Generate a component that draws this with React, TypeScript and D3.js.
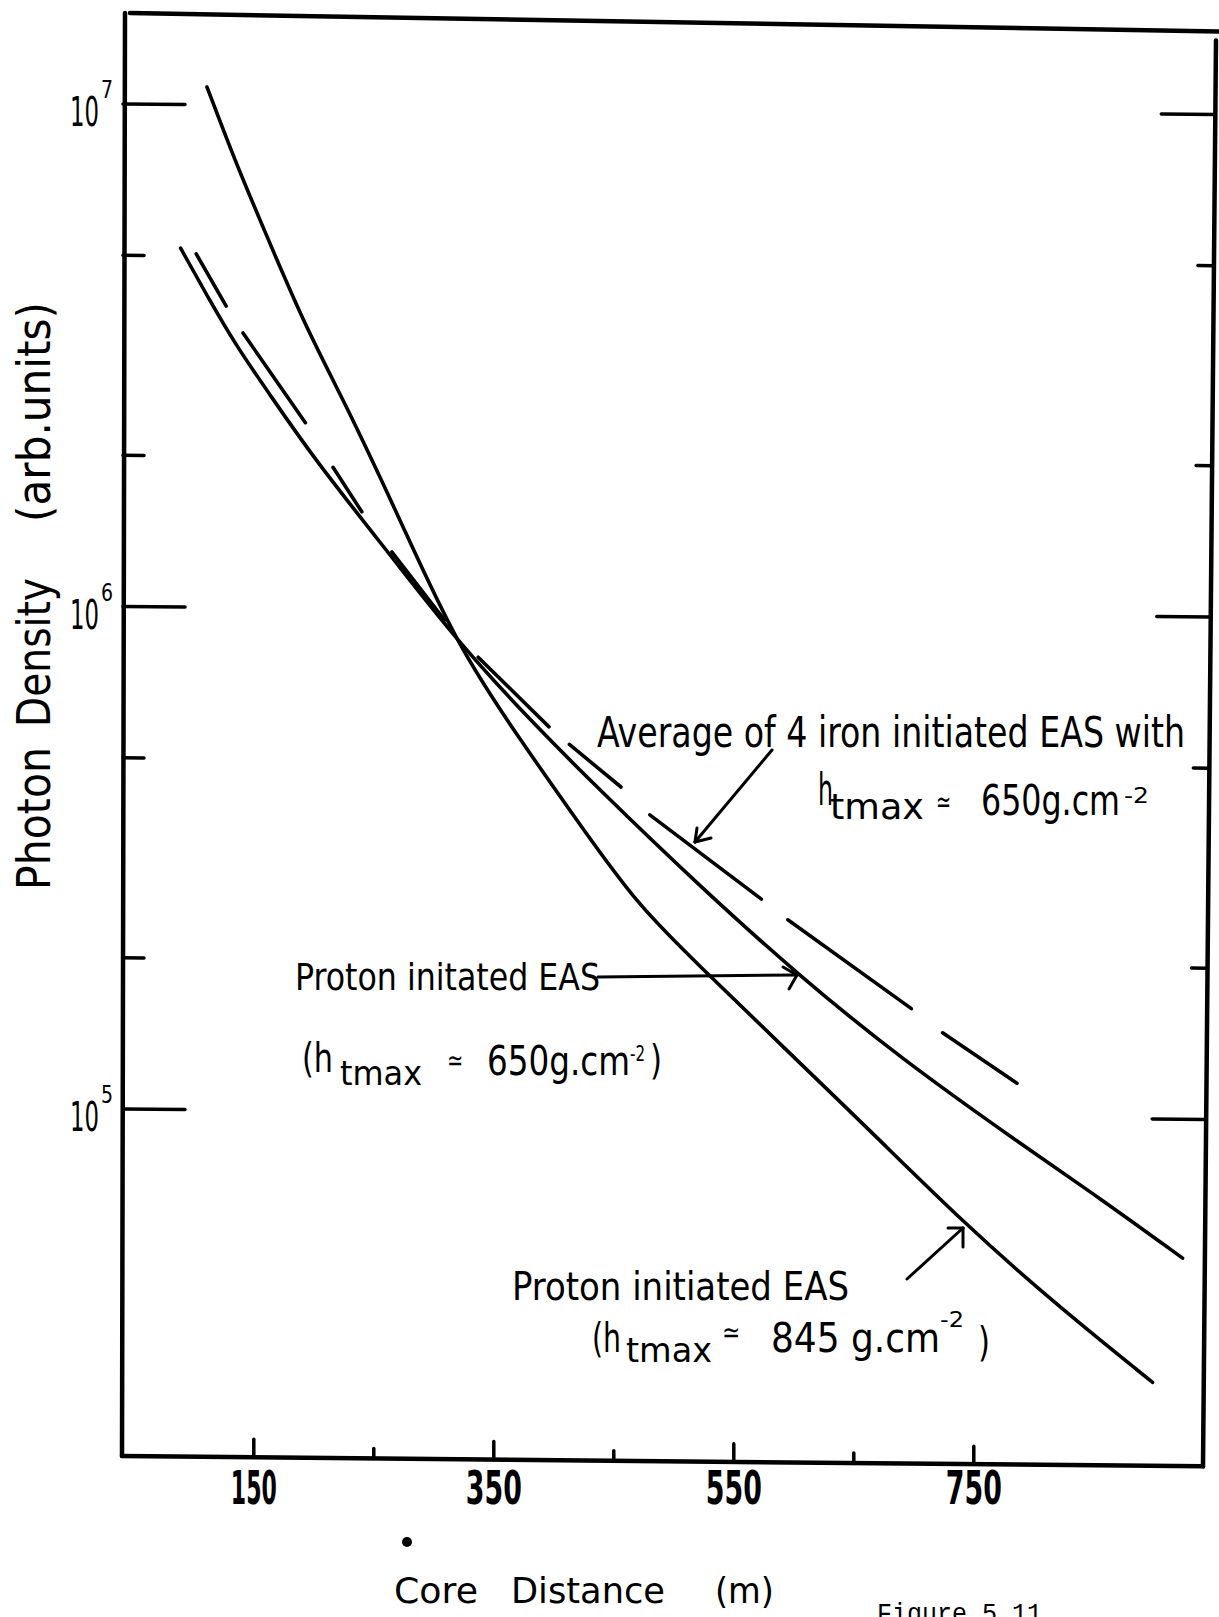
import { useEffect, useRef } from 'react';
import * as d3 from 'd3';

const WIDTH = 1219;
const HEIGHT = 1617;

// Proton initiated EAS, htmax ~ 845 g.cm^-2 (steep solid curve)
const distance845 = [111, 134, 158, 193, 226, 272, 319, 372, 422, 470, 522, 591, 669, 741, 816, 899];
const density845 = [1.085e7, 7.78e6, 5.7e6, 3.63e6, 2.57e6, 1.505e6, 8.51e5, 5.52e5, 3.75e5, 2.6e5, 1.97e5, 1.37e5, 9.09e4, 6.18e4, 4.3e4, 2.99e4];

// Proton initiated EAS, htmax ~ 650 g.cm^-2 (flatter solid curve)
const distance650 = [89, 113, 136, 161, 199, 269, 319, 380, 438, 522, 603, 688, 788, 855, 924];
const density650 = [5.18e6, 4.09e6, 3.3e6, 2.71e6, 2.0e6, 1.235e6, 8.7e5, 6.05e5, 4.41e5, 2.84e5, 1.91e5, 1.31e5, 8.9e4, 6.94e4, 5.29e4];

// Average of 4 iron initiated EAS (hand drawn dashes: start / end of each dash)
const ironDashStart = [102, 141, 216, 265, 337, 413, 480, 595, 724];
const ironDashStartDensity = [5.05e6, 3.52e6, 1.91e6, 1.3e6, 8.05e5, 5.42e5, 3.94e5, 2.45e5, 1.47e5];
const ironDashEnd = [127, 193, 240, 309, 396, 456, 573, 698, 786];
const ironDashEndDensity = [3.98e6, 2.34e6, 1.56e6, 9.53e5, 5.87e5, 4.47e5, 2.69e5, 1.64e5, 1.17e5];

const majorDensityTicks = [1e5, 1e6, 1e7];
const minorDensityTicks = [2e5, 5e5, 2e6, 5e6];
const majorDistanceTicks = [150, 350, 550, 750];
const minorDistanceTicks = [250, 450, 650];

const HAND = "'Liberation Sans Narrow', 'DejaVu Sans Condensed', 'Liberation Sans', sans-serif";
const LEROY = "'DejaVu Sans', sans-serif";

export default function App() {
  const svgRef = useRef<SVGSVGElement>(null);

  useEffect(() => {
    if (!svgRef.current) return;
    const svg = d3.select(svgRef.current);
    svg.selectAll('*').remove();

    const plot = { left: 123, right: 1209, top: 14, bottom: 1456 };
    const x = d3.scaleLinear().domain([150, 750]).range([253.8, 973.8]);
    const y = d3.scaleLog().domain([1e5, 1e7]).range([1109, 104]);

    svg.append('rect').attr('width', WIDTH).attr('height', HEIGHT).attr('fill', '#fff');

    // the scanned sheet is slightly skewed: right side sits lower
    const g = svg
      .append('g')
      .attr('transform', `translate(${plot.left},0) skewY(0.55) translate(${-plot.left},0)`)
      .attr('stroke', '#000')
      .attr('fill', 'none')
      .attr('stroke-linecap', 'round');

    // frame
    g.append('line')
      .attr('x1', plot.left + 2).attr('y1', plot.top - 1)
      .attr('x2', plot.left - 1).attr('y2', plot.bottom)
      .attr('stroke-width', 4.5);
    g.append('line')
      .attr('x1', plot.left + 7).attr('y1', plot.top - 1)
      .attr('x2', WIDTH).attr('y2', plot.top + 7)
      .attr('stroke-width', 4.5);
    g.append('line')
      .attr('x1', plot.left - 1).attr('y1', plot.bottom)
      .attr('x2', plot.right - 6).attr('y2', plot.bottom)
      .attr('stroke-width', 4.5);
    const rightTop = plot.top + 16;
    const rightAt = (py: number) =>
      plot.right + 7 - ((py - rightTop) / (plot.bottom - rightTop)) * 13;
    g.append('line')
      .attr('x1', rightAt(rightTop)).attr('y1', rightTop)
      .attr('x2', rightAt(plot.bottom)).attr('y2', plot.bottom)
      .attr('stroke-width', 4.5);

    // density ticks, left and right
    const densityTicks = [
      ...majorDensityTicks.map((v) => ({ v, left: 62, right: 54 })),
      ...minorDensityTicks.map((v) => ({ v, left: 21, right: 16 })),
    ];
    densityTicks.forEach((t) => {
      const py = y(t.v);
      g.append('line')
        .attr('x1', plot.left).attr('x2', plot.left + t.left)
        .attr('y1', py).attr('y2', py)
        .attr('stroke-width', 3.5);
      g.append('line')
        .attr('x1', rightAt(py) - t.right).attr('x2', rightAt(py))
        .attr('y1', py).attr('y2', py)
        .attr('stroke-width', 3.5);
    });

    // distance ticks
    const distanceTicks = [
      ...majorDistanceTicks.map((v) => ({ v, len: 18 })),
      ...minorDistanceTicks.map((v) => ({ v, len: 10 })),
    ];
    distanceTicks.forEach((t) => {
      g.append('line')
        .attr('x1', x(t.v)).attr('x2', x(t.v))
        .attr('y1', plot.bottom).attr('y2', plot.bottom - t.len)
        .attr('stroke-width', 3.5);
    });

    // curves
    const line = d3
      .line<[number, number]>()
      .x((d) => x(d[0]))
      .y((d) => y(d[1]))
      .curve(d3.curveBasis);

    const p845 = distance845.map((d, i) => [d, density845[i]] as [number, number]);
    const p650 = distance650.map((d, i) => [d, density650[i]] as [number, number]);

    g.append('path').attr('d', line(p845)).attr('stroke-width', 3.6);
    g.append('path').attr('d', line(p650)).attr('stroke-width', 3.6);

    ironDashStart.forEach((d, i) => {
      g.append('line')
        .attr('x1', x(d)).attr('y1', y(ironDashStartDensity[i]))
        .attr('x2', x(ironDashEnd[i])).attr('y2', y(ironDashEndDensity[i]))
        .attr('stroke-width', 3.6);
    });

    // labels (not skewed)
    const txt = (
      s: string,
      tx: number,
      ty: number,
      size: number,
      len: number,
      family = HAND,
      anchor = 'start',
      weight = 'normal'
    ) =>
      svg
        .append('text')
        .attr('x', tx)
        .attr('y', ty)
        .attr('font-family', family)
        .attr('font-size', size)
        .attr('font-weight', weight)
        .attr('text-anchor', anchor)
        .attr('textLength', len)
        .attr('lengthAdjust', 'spacingAndGlyphs')
        .attr('fill', '#000')
        .text(s);

    majorDensityTicks.forEach((v) => {
      const py = y(v);
      txt('10', 99, py + 22, 41, 29, LEROY, 'end');
      txt(String(Math.round(Math.log10(v))), 101, py - 6, 24, 12, LEROY);
    });

    majorDistanceTicks.forEach((v) => {
      txt(String(v), x(v), 1504, 46, v === 150 ? 46 : 56, HAND, 'middle', 'bold');
    });

    // y axis title
    const yTitle = [
      { s: 'Photon', start: 890, len: 143 },
      { s: 'Density', start: 727, len: 149 },
      { s: '(arb.units)', start: 522, len: 220 },
    ];
    yTitle.forEach((p) => {
      svg
        .append('text')
        .attr('transform', `translate(50,${p.start}) rotate(-90)`)
        .attr('font-family', LEROY)
        .attr('font-size', 46)
        .attr('textLength', p.len)
        .attr('lengthAdjust', 'spacingAndGlyphs')
        .attr('fill', '#000')
        .text(p.s);
    });

    // x axis title
    txt('Core', 394, 1603, 36, 84, LEROY);
    txt('Distance', 511, 1603, 36, 154, LEROY);
    txt('(m)', 715, 1603, 36, 59, LEROY);

    // annotation: iron
    txt('Average of 4 iron initiated  EAS with', 597, 747, 42, 588);
    txt('h', 818, 805, 44, 15);
    txt('tmax', 830, 819, 36, 94);
    txt('≃', 936, 812, 30, 15);
    txt('650g.cm', 981, 815, 42, 139);
    txt('-2', 1124, 803, 22, 25);

    // annotation: proton 650
    txt('Proton initated EAS', 295, 990, 38, 305);
    txt('(h', 302, 1072, 40, 31);
    txt('tmax', 340, 1085, 34, 82);
    txt('≃', 447, 1070, 28, 16);
    txt('650g.cm', 487, 1075, 40, 143);
    txt('-2', 630, 1061, 22, 15);
    txt(')', 650, 1074, 40, 12);

    // annotation: proton 845
    txt('Proton initiated EAS', 512, 1300, 39, 337);
    txt('(h', 592, 1352, 40, 29);
    txt('tmax', 626, 1362, 34, 86);
    txt('≃', 722, 1342, 28, 18);
    txt('845 g.cm', 771, 1352, 40, 169);
    txt('-2', 940, 1327, 22, 24);
    txt(')', 978, 1356, 40, 12);

    // arrows
    const arrows = [
      { from: [772, 750], to: [695, 842], barbs: [[697, 828], [711, 838]] },
      { from: [598, 977], to: [797, 975], barbs: [[783, 967], [789, 989]] },
      { from: [907, 1279], to: [963, 1228], barbs: [[948, 1228], [963, 1247]] },
    ];
    const ag = svg.append('g').attr('stroke', '#000').attr('stroke-width', 3).attr('stroke-linecap', 'round');
    arrows.forEach((a) => {
      ag.append('line')
        .attr('x1', a.from[0]).attr('y1', a.from[1])
        .attr('x2', a.to[0]).attr('y2', a.to[1]);
      a.barbs.forEach((b) => {
        ag.append('line')
          .attr('x1', a.to[0]).attr('y1', a.to[1])
          .attr('x2', b[0]).attr('y2', b[1]);
      });
    });

    svg.append('circle').attr('cx', 407).attr('cy', 1542).attr('r', 5).attr('fill', '#000');

    txt('Figure 5.11', 877, 1622, 27, 165, "'Liberation Mono', 'DejaVu Sans Mono', monospace");
  }, []);

  return (
    <svg
      ref={svgRef}
      width={WIDTH}
      height={HEIGHT}
      style={{ position: 'absolute', left: 0, top: 0, display: 'block' }}
    />
  );
}
